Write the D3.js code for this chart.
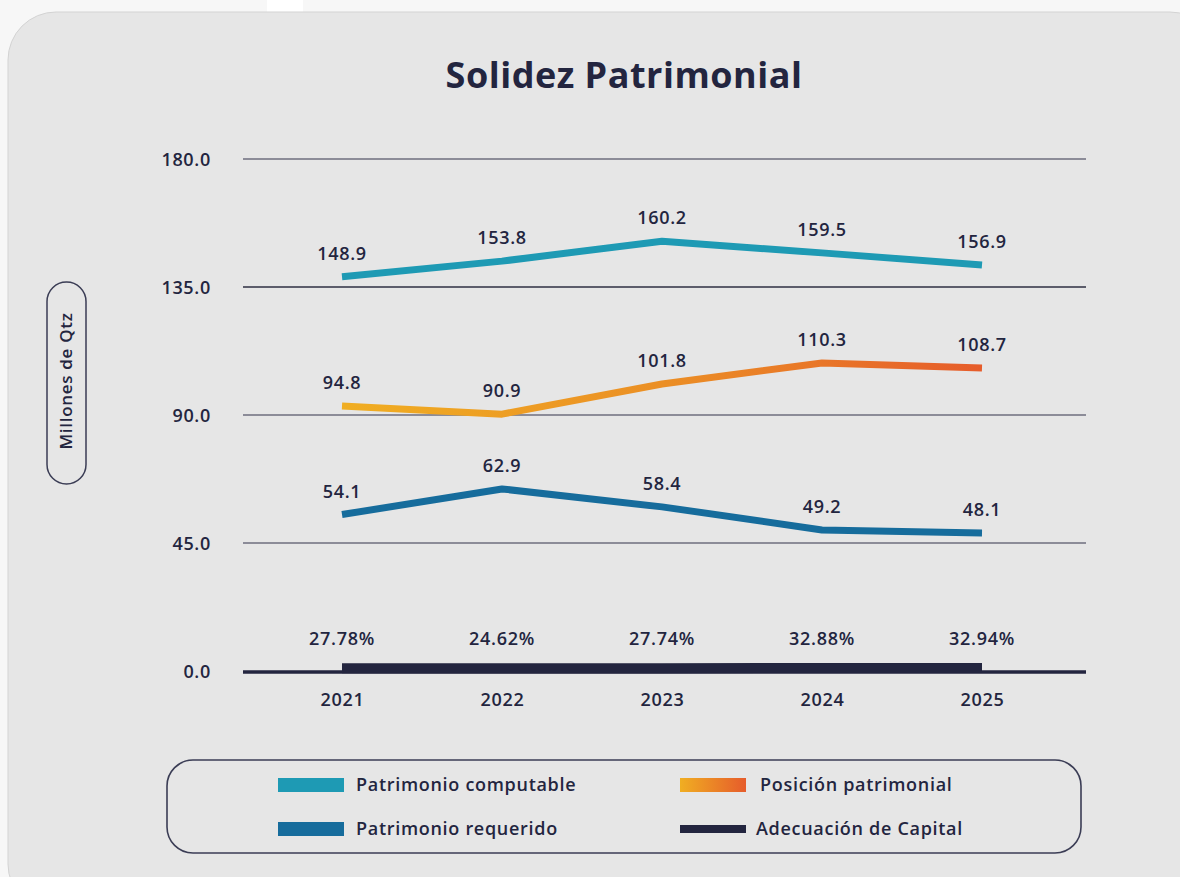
<!DOCTYPE html>
<html>
<head>
<meta charset="utf-8">
<script src="https://cdn.jsdelivr.net/npm/d3@7"></script>
<style>
  body { margin: 0; background: #f7f7f7; }
  svg { display: block; }
  text { font-family: "Open Sans", "Noto Sans", sans-serif; fill: #23253f; letter-spacing: 0.7px; }
</style>
</head>
<body>
<div id="chart"></div>
<script>
// values as labelled and as plotted in the picture (in millions of Qtz)
var years = ["2021", "2022", "2023", "2024", "2025"];
var computableLabels = ["148.9", "153.8", "160.2", "159.5", "156.9"];
var computable = [138.6, 144.1, 151.1, 147.0, 142.7];
var posicionLabels = ["94.8", "90.9", "101.8", "110.3", "108.7"];
var posicion = [93.2, 90.3, 100.9, 108.3, 106.5];
var requeridoLabels = ["54.1", "62.9", "58.4", "49.2", "48.1"];
var requerido = [55.0, 64.0, 57.7, 49.6, 48.5];
var adecuacion = [27.78, 24.62, 27.74, 32.88, 32.94];
var yTicks = [0, 45, 90, 135, 180];
var legendNames = ["Patrimonio computable", "Posición patrimonial", "Patrimonio requerido", "Adecuación de Capital"];

var width = 1180, height = 877;
var ink = "#23253f";
var fs = 18;

var svg = d3.select("#chart").append("svg")
    .attr("width", width)
    .attr("height", height);

var defs = svg.append("defs");
var grad = defs.append("linearGradient")
    .attr("id", "orangeLine")
    .attr("gradientUnits", "userSpaceOnUse")
    .attr("x1", 340).attr("x2", 985).attr("y1", 0).attr("y2", 0);
grad.append("stop").attr("offset", "0%").attr("stop-color", "#f0ae22");
grad.append("stop").attr("offset", "50%").attr("stop-color", "#eb8f25");
grad.append("stop").attr("offset", "100%").attr("stop-color", "#e65c2b");
var grad2 = defs.append("linearGradient").attr("id", "orangeSwatch");
grad2.append("stop").attr("offset", "0%").attr("stop-color", "#f0ae22");
grad2.append("stop").attr("offset", "100%").attr("stop-color", "#e65c2b");

// background card
svg.append("rect")
    .attr("x", 267).attr("y", 0).attr("width", 36).attr("height", 14)
    .attr("fill", "#ffffff");
svg.append("rect")
    .attr("x", 8).attr("y", 12)
    .attr("width", 1210).attr("height", 900)
    .attr("rx", 48)
    .attr("fill", "#e6e6e6")
    .attr("stroke", "#d3d3d3")
    .attr("stroke-width", 1);

svg.append("text")
    .attr("x", 624).attr("y", 88)
    .attr("text-anchor", "middle")
    .attr("font-size", 36)
    .attr("font-weight", 700)
    .style("letter-spacing", "0.5px")
    .text("Solidez Patrimonial");

var xScale = d3.scalePoint().domain(years).range([342, 982]);
var yScale = d3.scaleLinear().domain([0, 180]).range([671, 159]);
var left = 243, right = 1086;

// gridlines
svg.append("g").selectAll("line")
    .data(yTicks.filter(function(d) { return d > 0; }))
    .join("line")
    .attr("x1", left).attr("x2", right)
    .attr("y1", function(d) { return yScale(d); })
    .attr("y2", function(d) { return yScale(d); })
    .attr("stroke", function(d) { return d === 135 ? "#2e2f42" : "#8c8c98"; })
    .attr("stroke-width", function(d) { return d === 135 ? 1.5 : 2; });

var yAxis = d3.axisLeft(yScale)
    .tickValues(yTicks)
    .tickFormat(d3.format(".1f"))
    .tickSize(0)
    .tickPadding(32);
var gy = svg.append("g")
    .attr("transform", "translate(" + left + ",0)")
    .call(yAxis);
gy.select(".domain").remove();
gy.selectAll("text")
    .attr("font-size", fs)
    .attr("font-weight", 600)
    .attr("fill", ink)
    .attr("dy", "0.35em");

var xAxis = d3.axisBottom(xScale).tickSize(0).tickPadding(22);
var gx = svg.append("g")
    .attr("transform", "translate(0," + yScale(0) + ")")
    .call(xAxis);
gx.select(".domain").remove();
gx.selectAll("text")
    .attr("font-size", fs)
    .attr("font-weight", 600)
    .attr("fill", ink);
svg.selectAll(".tick text").style("font-family", "'Open Sans', sans-serif");

// y label pill
svg.append("rect")
    .attr("x", 47).attr("y", 282).attr("width", 39).attr("height", 202)
    .attr("rx", 19.5)
    .attr("fill", "none")
    .attr("stroke", "#3b3d55")
    .attr("stroke-width", 1.5);
svg.append("text")
    .attr("transform", "translate(72,381) rotate(-90)")
    .attr("text-anchor", "middle")
    .attr("font-size", 17)
    .attr("font-weight", 600)
    .text("Millones de Qtz");

var line = d3.line()
    .x(function(d, i) { return xScale(years[i]); })
    .y(function(d) { return yScale(d); });

// capital adequacy bar (percent values on the millions axis sit at the baseline)
svg.append("line")
    .attr("x1", left).attr("x2", right)
    .attr("y1", yScale(0) + 1).attr("y2", yScale(0) + 1)
    .attr("stroke", ink).attr("stroke-width", 3.5);
svg.append("path")
    .datum(adecuacion.map(function(d) { return d / 100; }))
    .attr("d", line)
    .attr("transform", "translate(0,-2)")
    .attr("fill", "none")
    .attr("stroke", ink)
    .attr("stroke-width", 10);
svg.append("g").selectAll("text")
    .data(adecuacion)
    .join("text")
    .attr("x", function(d, i) { return xScale(years[i]); })
    .attr("y", function(d) { return yScale(d / 100) - 25; })
    .attr("text-anchor", "middle")
    .attr("font-size", fs)
    .attr("font-weight", 600)
    .text(function(d) { return d.toFixed(2) + "%"; });

var series = [
    { vals: computable, labels: computableLabels, color: "#1e9ab4" },
    { vals: posicion, labels: posicionLabels, color: "url(#orangeLine)" },
    { vals: requerido, labels: requeridoLabels, color: "#166c9c" }
];

series.forEach(function(s) {
    svg.append("path")
        .datum(s.vals)
        .attr("d", line)
        .attr("fill", "none")
        .attr("stroke", s.color)
        .attr("stroke-width", 7)
        .attr("stroke-linejoin", "round");
    svg.append("g").selectAll("text")
        .data(s.vals)
        .join("text")
        .attr("x", function(d, i) { return xScale(years[i]); })
        .attr("y", function(d) { return yScale(d) - 17; })
        .attr("text-anchor", "middle")
        .attr("font-size", fs)
        .attr("font-weight", 600)
        .text(function(d, i) { return s.labels[i]; });
});

// legend
svg.append("rect")
    .attr("x", 167).attr("y", 760).attr("width", 914).attr("height", 93)
    .attr("rx", 26)
    .attr("fill", "none")
    .attr("stroke", "#3b3d55")
    .attr("stroke-width", 1.6);

var legendSwatch = ["#1e9ab4", "url(#orangeSwatch)", "#166c9c", ink];
var legend = svg.append("g").selectAll("g")
    .data(legendNames)
    .join("g")
    .attr("transform", function(d, i) {
        return "translate(" + (i % 2 ? 680 : 278) + "," + (i < 2 ? 785 : 829) + ")";
    });
legend.append("rect")
    .attr("x", 0)
    .attr("y", function(d, i) { return i === 3 ? -4 : -7; })
    .attr("width", 66)
    .attr("height", function(d, i) { return i === 3 ? 8 : 14; })
    .attr("fill", function(d, i) { return legendSwatch[i]; });
legend.append("text")
    .attr("x", function(d, i) { return i === 1 ? 80 : (i === 3 ? 76 : 78); })
    .attr("y", 6)
    .attr("font-size", fs)
    .attr("font-weight", 600)
    .text(function(d) { return d; });
</script>
</body>
</html>
